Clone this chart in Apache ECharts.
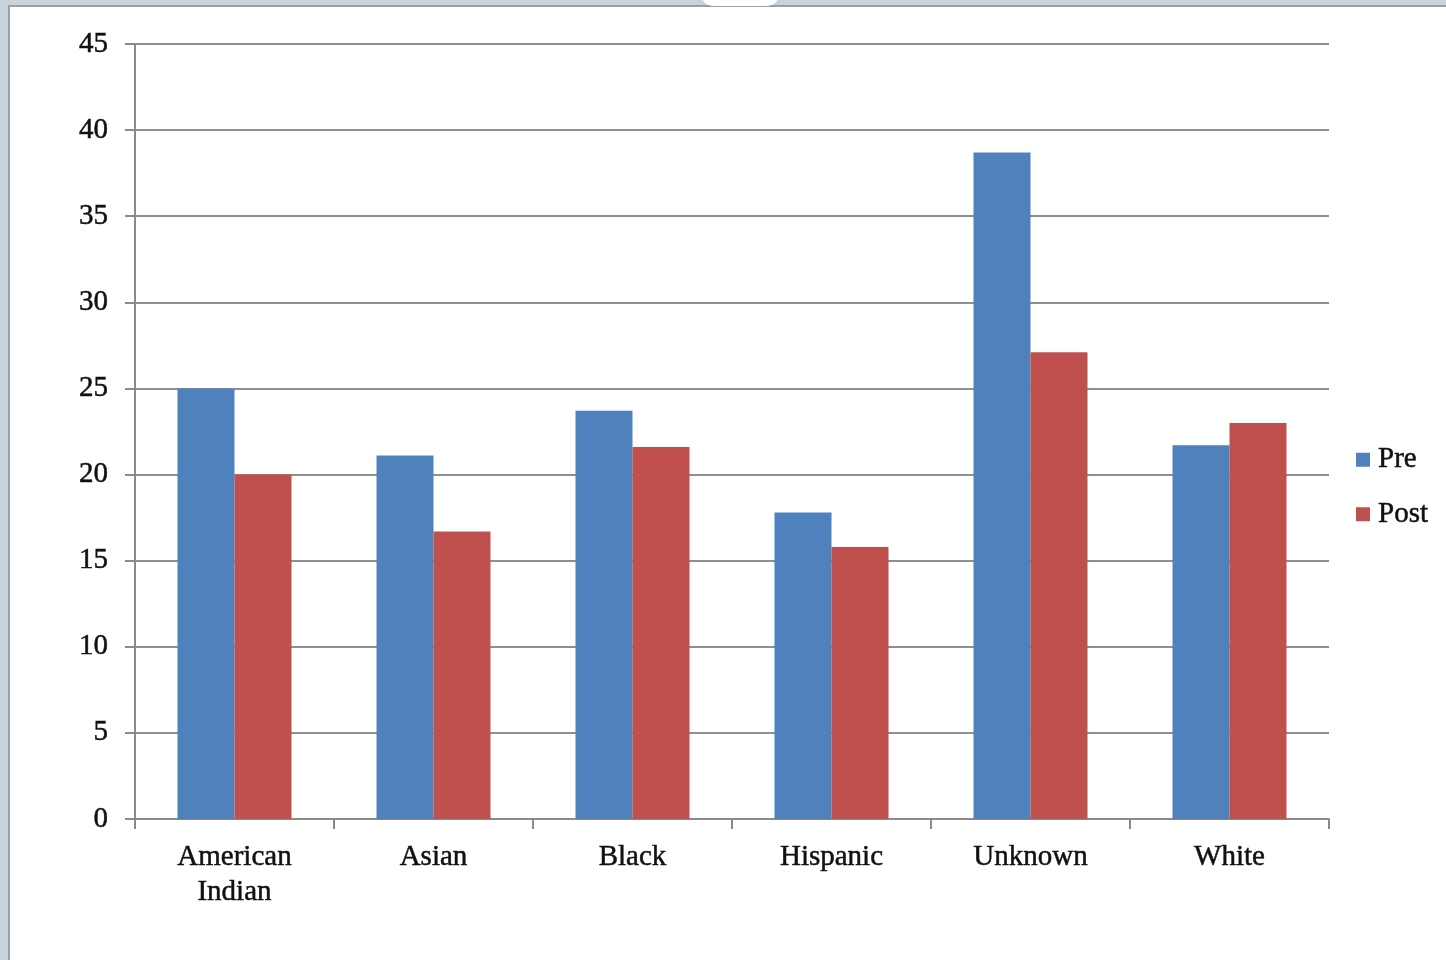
<!DOCTYPE html>
<html>
<head>
<meta charset="utf-8">
<script src="https://cdn.jsdelivr.net/npm/echarts@6/dist/echarts.min.js"></script>
<style>
  html, body { margin: 0; padding: 0; width: 1446px; height: 960px; overflow: hidden; background: #c8d3db; }
  #paper { position: absolute; left: 8px; top: 5px; width: 1438px; height: 955px; background: #ffffff;
           border-left: 2px solid #9aa0a6; border-top: 2px solid #9aa0a6; box-sizing: border-box; }
  #tab { position: absolute; left: 700px; top: -10px; width: 80px; height: 16px; background: #ffffff; border-radius: 0 0 14px 14px; }
  #chart { position: absolute; left: 0; top: 0; width: 1446px; height: 960px; }
</style>
</head>
<body>
<div id="paper"></div>
<div id="tab"></div>
<div id="chart"></div>
<script>
const categories = ['American Indian', 'Asian', 'Black', 'Hispanic', 'Unknown', 'White'];
const preValues  = [25.0, 21.1, 23.7, 17.8, 38.7, 21.7];
const postValues = [20.0, 16.7, 21.6, 15.8, 27.1, 23.0];
const seriesNames = ['Pre', 'Post'];
const yTicks = { min: 0, max: 45, interval: 5 };

const FONT = '"Liberation Serif", "DejaVu Serif", serif';
const TXT = { fontFamily: FONT, color: '#111111', textBorderColor: '#111111', textBorderWidth: 0.5 };
const chart = echarts.init(document.getElementById('chart'), null, { renderer: 'canvas' });
chart.setOption({
  backgroundColor: 'transparent',
  animation: false,
  textStyle: { fontFamily: FONT },
  grid: { left: 135, right: 117, top: 44, bottom: 141, containLabel: false },
  legend: {
    orient: 'vertical',
    left: 1356,
    top: 445,
    padding: 0,
    itemGap: 25,
    itemWidth: 14,
    itemHeight: 14,
    icon: 'rect',
    textStyle: Object.assign({}, TXT, { fontSize: 29, padding: [0, 0, 0, 3] }),
    data: seriesNames
  },
  xAxis: {
    type: 'category',
    data: categories,
    boundaryGap: true,
    axisLine: { show: true, lineStyle: { color: '#8a8a8a', width: 2 } },
    axisTick: { show: true, length: 10, alignWithLabel: false, lineStyle: { color: '#8a8a8a', width: 2 } },
    axisLabel: Object.assign({}, TXT, {
      interval: 0,
      margin: 21,
      fontSize: 29,
      lineHeight: 35,
      formatter: v => v.replace(' ', '\n')
    })
  },
  yAxis: {
    type: 'value',
    min: yTicks.min,
    max: yTicks.max,
    interval: yTicks.interval,
    axisLine: { show: true, lineStyle: { color: '#8a8a8a', width: 2 } },
    axisTick: { show: true, length: 10, lineStyle: { color: '#8a8a8a', width: 2 } },
    splitLine: { show: true, lineStyle: { color: '#8f8f8f', width: 2 } },
    axisLabel: Object.assign({}, TXT, { margin: 27, fontSize: 29 })
  },
  series: [
    {
      name: seriesNames[0], type: 'bar', data: preValues,
      barWidth: 57, barGap: '0%',
      itemStyle: { color: '#4f81bd' }
    },
    {
      name: seriesNames[1], type: 'bar', data: postValues,
      barWidth: 57, barGap: '0%',
      itemStyle: { color: '#c0504d' }
    }
  ]
});
</script>
</body>
</html>
